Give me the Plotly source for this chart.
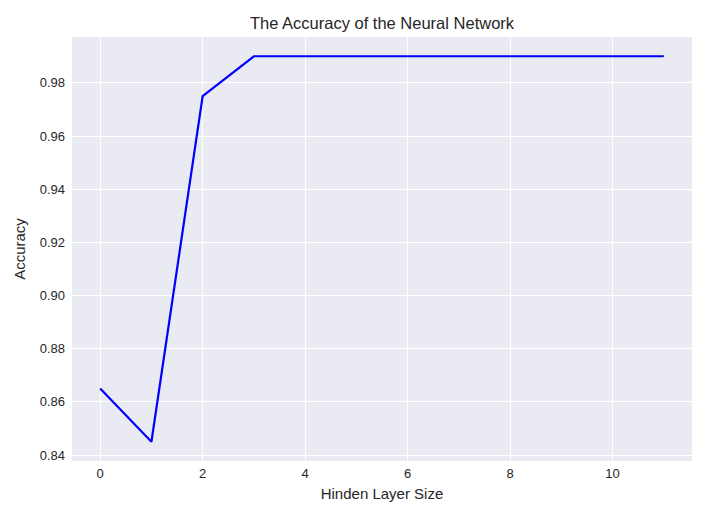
import plotly.graph_objects as go

hidden_layer_size = list(range(12))
accuracy = [0.865, 0.845, 0.975, 0.99, 0.99, 0.99, 0.99, 0.99, 0.99, 0.99, 0.99, 0.99]
x_ticks = [0, 2, 4, 6, 8, 10]
y_ticks = [0.84, 0.86, 0.88, 0.90, 0.92, 0.94, 0.96, 0.98]

fig = go.Figure()
fig.add_trace(go.Scatter(x=hidden_layer_size, y=accuracy, mode="lines",
                         line=dict(color="#0000FF", width=2.2)))

font = dict(family="Liberation Sans, Arial, sans-serif", color="#262626")
fig.update_layout(
    width=710, height=510,
    margin=dict(l=64, r=26, t=29, b=57, autoexpand=False),
    paper_bgcolor="white", plot_bgcolor="#EAEAF2",
    showlegend=False,
    font=dict(size=13, **font),
    title=dict(text="The Accuracy of the Neural Network", x=(72 + 692) / 2 / 710 - 8 / 710,
               xanchor="center", xref="container",
               y=1 - 15 / 510, yanchor="middle", font=dict(size=16.5, **font)),
)
fig.update_xaxes(range=[-0.55, 11.55], tickvals=x_ticks, ticktext=[str(v) for v in x_ticks],
                 showgrid=True, gridcolor="white", gridwidth=1.2, zeroline=False,
                 showline=False, ticks="", tickfont=dict(size=13, **font),
                 ticklabelstandoff=3, automargin=False,
                 title=dict(text="Hinden Layer Size", font=dict(size=15, **font), standoff=8))
fig.update_yaxes(range=[0.83775, 0.99725], tickvals=y_ticks, ticktext=[f"{v:.2f}" for v in y_ticks],
                 showgrid=True, gridcolor="white", gridwidth=1.2, zeroline=False,
                 showline=False, ticks="", tickfont=dict(size=13, **font),
                 ticklabelstandoff=6, automargin=False,
                 title=dict(text="Accuracy", font=dict(size=15, **font), standoff=10))

fig.write_html("out.html")
